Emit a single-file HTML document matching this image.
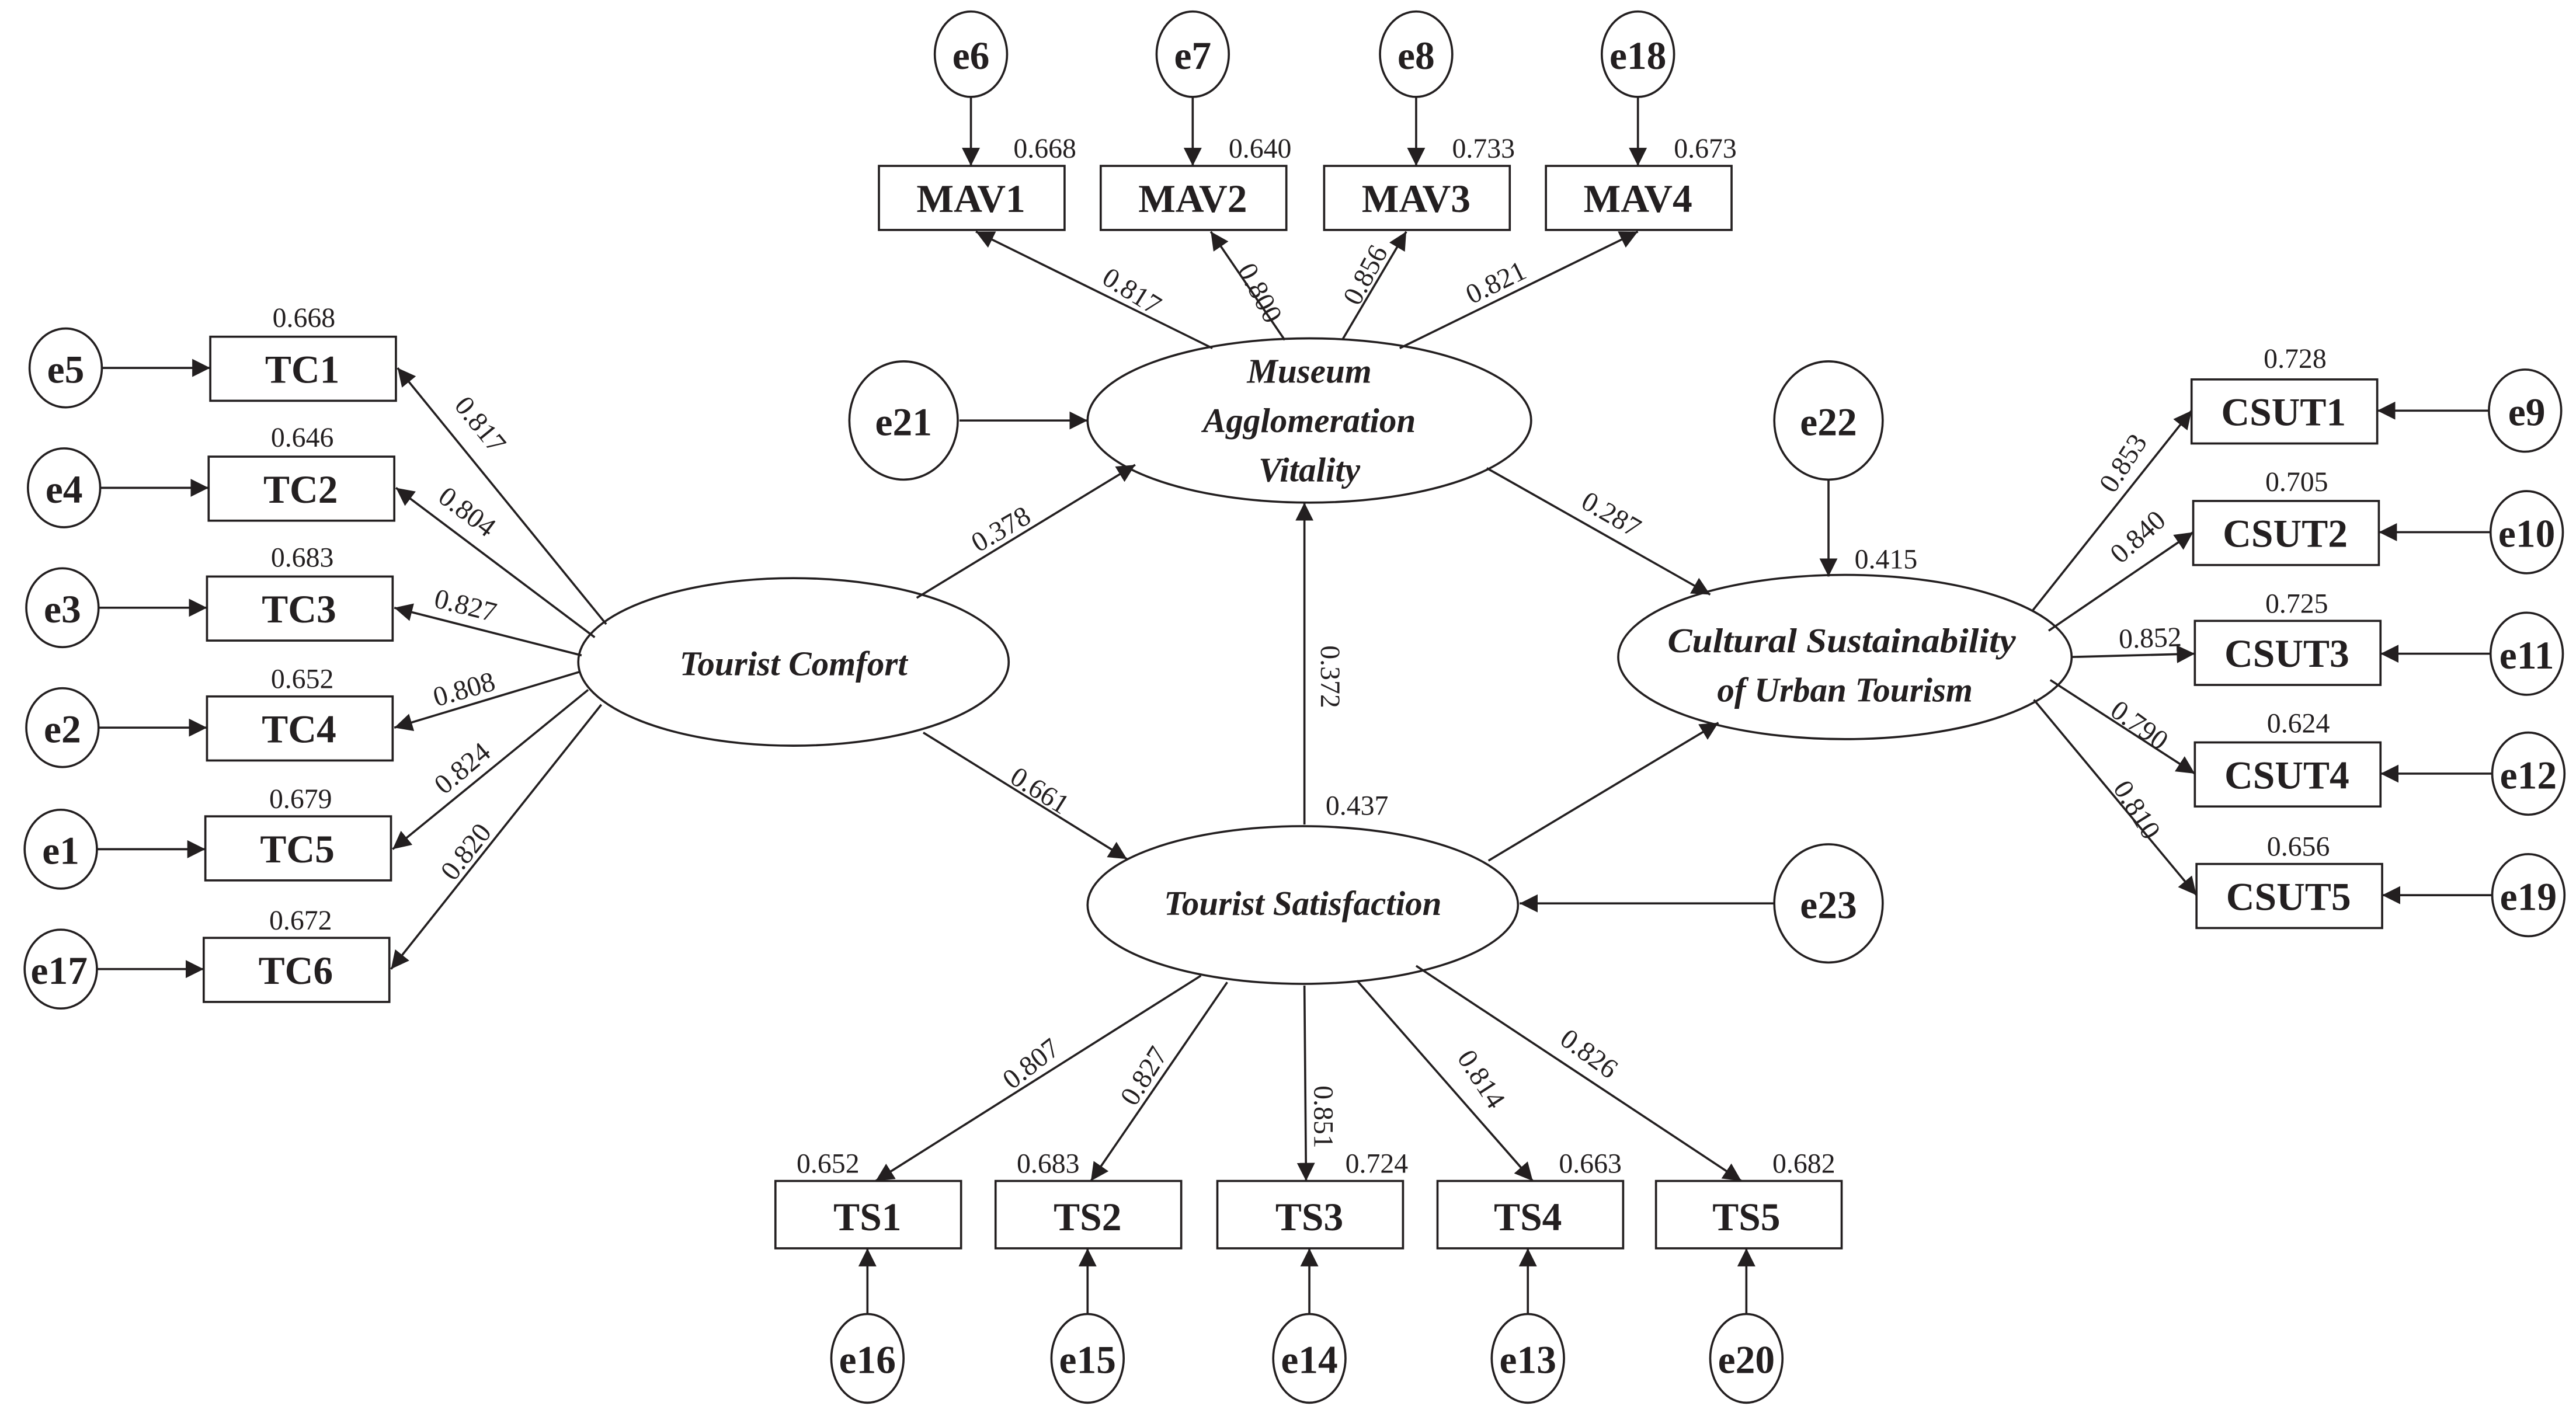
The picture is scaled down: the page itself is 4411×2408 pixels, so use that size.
<!DOCTYPE html>
<html><head><meta charset="utf-8"><style>
html,body{margin:0;padding:0;background:#fff;}
svg{display:block;}
text{font-family:"Liberation Serif",serif;fill:#231f20;}
.b{font-weight:bold;font-size:24px;}
.n{font-size:17px;}
.lat{font-weight:bold;font-style:italic;font-size:21px;}
</style></head><body>
<svg width="4411" height="2408" viewBox="0 0 1568 856" preserveAspectRatio="none" xmlns="http://www.w3.org/2000/svg">
<defs><marker id="a" viewBox="0 0 10 10" refX="10" refY="5" markerWidth="11" markerHeight="11" markerUnits="userSpaceOnUse" orient="auto"><path d="M0,0 L10,5 L0,10 z" fill="#231f20"/></marker></defs>
<rect width="1568" height="856" fill="#fff"/>
<g stroke="#231f20" stroke-width="1.3" fill="none">
<!-- left e circles and TC boxes -->
<ellipse cx="40" cy="224" rx="22" ry="24"/><ellipse cx="39" cy="297" rx="22" ry="24"/><ellipse cx="38" cy="370" rx="22" ry="24"/><ellipse cx="38" cy="443" rx="22" ry="24"/><ellipse cx="37" cy="517" rx="22" ry="24"/><ellipse cx="37" cy="590" rx="22" ry="24"/>
<rect x="128" y="205" width="113" height="39"/><rect x="127" y="278" width="113" height="39"/><rect x="126" y="351" width="113" height="39"/><rect x="126" y="424" width="113" height="39"/><rect x="125" y="497" width="113" height="39"/><rect x="124" y="571" width="113" height="39"/>
<line x1="62" y1="224" x2="128" y2="224" marker-end="url(#a)"/><line x1="61" y1="297" x2="127" y2="297" marker-end="url(#a)"/><line x1="60" y1="370" x2="126" y2="370" marker-end="url(#a)"/><line x1="60" y1="443" x2="126" y2="443" marker-end="url(#a)"/><line x1="59" y1="517" x2="125" y2="517" marker-end="url(#a)"/><line x1="59" y1="590" x2="124" y2="590" marker-end="url(#a)"/>
<!-- Tourist Comfort -->
<ellipse cx="483" cy="403" rx="131" ry="51"/>
<line x1="369" y1="380" x2="242" y2="224" marker-end="url(#a)"/>
<line x1="362" y1="388" x2="241" y2="297" marker-end="url(#a)"/>
<line x1="354" y1="399" x2="240" y2="370" marker-end="url(#a)"/>
<line x1="353" y1="409" x2="240" y2="443" marker-end="url(#a)"/>
<line x1="358" y1="420" x2="239" y2="517" marker-end="url(#a)"/>
<line x1="366" y1="429" x2="238" y2="590" marker-end="url(#a)"/>
<!-- MAV -->
<ellipse cx="591" cy="33" rx="22" ry="26"/><ellipse cx="726" cy="33" rx="22" ry="26"/><ellipse cx="862" cy="33" rx="22" ry="26"/><ellipse cx="997" cy="33" rx="22" ry="26"/>
<line x1="591" y1="59" x2="591" y2="101" marker-end="url(#a)"/><line x1="726" y1="59" x2="726" y2="101" marker-end="url(#a)"/><line x1="862" y1="59" x2="862" y2="101" marker-end="url(#a)"/><line x1="997" y1="59" x2="997" y2="101" marker-end="url(#a)"/>
<rect x="535" y="101" width="113" height="39"/><rect x="670" y="101" width="113" height="39"/><rect x="806" y="101" width="113" height="39"/><rect x="941" y="101" width="113" height="39"/>
<ellipse cx="797" cy="256" rx="135" ry="50"/>
<line x1="738" y1="212" x2="594" y2="141" marker-end="url(#a)"/>
<line x1="782" y1="207" x2="737" y2="141" marker-end="url(#a)"/>
<line x1="817" y1="207" x2="856" y2="141" marker-end="url(#a)"/>
<line x1="852" y1="212" x2="997" y2="141" marker-end="url(#a)"/>
<ellipse cx="550" cy="256" rx="33" ry="36"/>
<line x1="584" y1="256" x2="662" y2="256" marker-end="url(#a)"/>
<!-- structural -->
<line x1="558" y1="364" x2="691" y2="283" marker-end="url(#a)"/>
<line x1="562" y1="446" x2="686" y2="523" marker-end="url(#a)"/>
<line x1="794" y1="502" x2="794" y2="306" marker-end="url(#a)"/>
<line x1="905" y1="285" x2="1041" y2="362" marker-end="url(#a)"/>
<line x1="906" y1="524" x2="1046" y2="440" marker-end="url(#a)"/>
<!-- TS -->
<ellipse cx="793" cy="551" rx="131" ry="48"/>
<ellipse cx="1113" cy="550" rx="33" ry="36"/>
<line x1="1080" y1="550" x2="925" y2="550" marker-end="url(#a)"/>
<rect x="472" y="719" width="113" height="41"/><rect x="606" y="719" width="113" height="41"/><rect x="741" y="719" width="113" height="41"/><rect x="875" y="719" width="113" height="41"/><rect x="1008" y="719" width="113" height="41"/>
<line x1="731" y1="594" x2="533" y2="719" marker-end="url(#a)"/>
<line x1="747" y1="598" x2="664" y2="719" marker-end="url(#a)"/>
<line x1="794" y1="600" x2="795" y2="719" marker-end="url(#a)"/>
<line x1="826" y1="597" x2="933" y2="719" marker-end="url(#a)"/>
<line x1="862" y1="588" x2="1060" y2="719" marker-end="url(#a)"/>
<ellipse cx="528" cy="827" rx="22" ry="27"/><ellipse cx="662" cy="827" rx="22" ry="27"/><ellipse cx="797" cy="827" rx="22" ry="27"/><ellipse cx="930" cy="827" rx="22" ry="27"/><ellipse cx="1063" cy="827" rx="22" ry="27"/>
<line x1="528" y1="800" x2="528" y2="760" marker-end="url(#a)"/><line x1="662" y1="800" x2="662" y2="760" marker-end="url(#a)"/><line x1="797" y1="800" x2="797" y2="760" marker-end="url(#a)"/><line x1="930" y1="800" x2="930" y2="760" marker-end="url(#a)"/><line x1="1063" y1="800" x2="1063" y2="760" marker-end="url(#a)"/>
<!-- CSUT -->
<ellipse cx="1123" cy="400" rx="138" ry="50"/>
<ellipse cx="1113" cy="256" rx="33" ry="36"/>
<line x1="1113" y1="292" x2="1113" y2="351" marker-end="url(#a)"/>
<rect x="1334" y="231" width="113" height="39"/><rect x="1335" y="305" width="113" height="39"/><rect x="1336" y="378" width="113" height="39"/><rect x="1336" y="452" width="113" height="39"/><rect x="1337" y="526" width="113" height="39"/>
<line x1="1237" y1="372" x2="1334" y2="250" marker-end="url(#a)"/>
<line x1="1247" y1="384" x2="1335" y2="324" marker-end="url(#a)"/>
<line x1="1261" y1="400" x2="1336" y2="398" marker-end="url(#a)"/>
<line x1="1248" y1="414" x2="1336" y2="471" marker-end="url(#a)"/>
<line x1="1238" y1="426" x2="1337" y2="545" marker-end="url(#a)"/>
<ellipse cx="1537" cy="250" rx="22" ry="25"/><ellipse cx="1538" cy="324" rx="22" ry="25"/><ellipse cx="1538" cy="398" rx="22" ry="25"/><ellipse cx="1539" cy="471" rx="22" ry="25"/><ellipse cx="1539" cy="545" rx="22" ry="25"/>
<line x1="1515" y1="250" x2="1447" y2="250" marker-end="url(#a)"/><line x1="1516" y1="324" x2="1448" y2="324" marker-end="url(#a)"/><line x1="1516" y1="398" x2="1449" y2="398" marker-end="url(#a)"/><line x1="1517" y1="471" x2="1449" y2="471" marker-end="url(#a)"/><line x1="1517" y1="545" x2="1450" y2="545" marker-end="url(#a)"/>
</g>
<g class="b" text-anchor="middle" dominant-baseline="central">
<text x="40" y="225">e5</text><text x="39" y="298">e4</text><text x="38" y="371">e3</text><text x="38" y="444">e2</text><text x="37" y="518">e1</text><text x="36" y="591">e17</text>
<text x="184" y="225">TC1</text><text x="183" y="298">TC2</text><text x="182" y="371">TC3</text><text x="182" y="444">TC4</text><text x="181" y="517">TC5</text><text x="180" y="591">TC6</text>
<text x="591" y="34">e6</text><text x="726" y="34">e7</text><text x="862" y="34">e8</text><text x="997" y="34">e18</text>
<text x="591" y="121">MAV1</text><text x="726" y="121">MAV2</text><text x="862" y="121">MAV3</text><text x="997" y="121">MAV4</text>
<text x="550" y="257">e21</text><text x="1113" y="257">e22</text><text x="1113" y="551">e23</text>
<text x="528" y="741">TS1</text><text x="662" y="741">TS2</text><text x="797" y="741">TS3</text><text x="930" y="741">TS4</text><text x="1063" y="741">TS5</text>
<text x="528" y="828">e16</text><text x="662" y="828">e15</text><text x="797" y="828">e14</text><text x="930" y="828">e13</text><text x="1063" y="828">e20</text>
<text x="1390" y="251">CSUT1</text><text x="1391" y="325">CSUT2</text><text x="1392" y="398">CSUT3</text><text x="1392" y="472">CSUT4</text><text x="1393" y="546">CSUT5</text>
<text x="1538" y="251">e9</text><text x="1538" y="325">e10</text><text x="1538" y="399">e11</text><text x="1539" y="472">e12</text><text x="1539" y="546">e19</text>
</g>
<g class="lat" text-anchor="middle" dominant-baseline="central">
<text x="483" y="404">Tourist Comfort</text>
<text x="797" y="226">Museum</text><text x="797" y="256">Agglomeration</text><text x="797" y="286">Vitality</text>
<text x="793" y="550">Tourist Satisfaction</text>
<text x="1121" y="390" textLength="212" lengthAdjust="spacingAndGlyphs">Cultural Sustainability</text><text x="1123" y="420">of Urban Tourism</text>
</g>
<g class="n" text-anchor="middle">
<text x="185" y="199">0.668</text><text x="184" y="272">0.646</text><text x="184" y="345">0.683</text><text x="184" y="419">0.652</text><text x="183" y="492">0.679</text><text x="183" y="566">0.672</text>
<text x="636" y="96">0.668</text><text x="767" y="96">0.640</text><text x="903" y="96">0.733</text><text x="1038" y="96">0.673</text>
<text x="504" y="714">0.652</text><text x="638" y="714">0.683</text><text x="838" y="714">0.724</text><text x="968" y="714">0.663</text><text x="1098" y="714">0.682</text>
<text x="1397" y="224">0.728</text><text x="1398" y="299">0.705</text><text x="1398" y="373">0.725</text><text x="1399" y="446">0.624</text><text x="1399" y="521">0.656</text>
<text x="1148" y="346">0.415</text><text x="826" y="496">0.437</text>
<text transform="translate(288,262) rotate(51)">0.817</text>
<text transform="translate(281,316) rotate(37)">0.804</text>
<text transform="translate(282,374) rotate(14)">0.827</text>
<text transform="translate(284,425) rotate(-16)">0.808</text>
<text transform="translate(285,472) rotate(-40)">0.824</text>
<text transform="translate(288,522) rotate(-52)">0.820</text>
<text transform="translate(686,182) rotate(32)">0.817</text>
<text transform="translate(762,181) rotate(62)">0.800</text>
<text transform="translate(836,170) rotate(-62)">0.856</text>
<text transform="translate(913,177) rotate(-26)">0.821</text>
<text transform="translate(612,327) rotate(-30)">0.378</text>
<text transform="translate(630,486) rotate(32)">0.661</text>
<text transform="translate(804,412) rotate(90)">0.372</text>
<text transform="translate(978,318) rotate(30)">0.287</text>
<text transform="translate(631,652) rotate(-38)">0.807</text>
<text transform="translate(701,658) rotate(-58)">0.827</text>
<text transform="translate(800,680) rotate(90)">0.851</text>
<text transform="translate(897,660) rotate(57)">0.814</text>
<text transform="translate(964,646) rotate(36)">0.826</text>
<text transform="translate(1297,285) rotate(-57)">0.853</text>
<text transform="translate(1305,331) rotate(-42)">0.840</text>
<text transform="translate(1309,394) rotate(-2)">0.852</text>
<text transform="translate(1299,446) rotate(36)">0.790</text>
<text transform="translate(1296,496) rotate(58)">0.810</text>
</g>
</svg>
</body></html>
